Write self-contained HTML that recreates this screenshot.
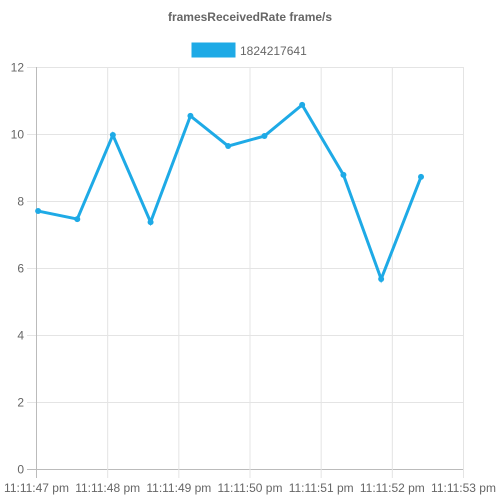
<!DOCTYPE html>
<html><head><meta charset="utf-8"><style>
body{margin:0;background:#fff;}
svg{display:block;font-family:"Liberation Sans",sans-serif;}
</style></head><body>
<svg id="c" width="500" height="500">
<text x="250" y="21" text-anchor="middle" font-size="12" font-weight="bold" fill="#666">framesReceivedRate frame/s</text>
<g>
<rect x="192" y="43" width="43" height="14" fill="#1eaae6" stroke="#1eaae6"></rect>
<text x="240" y="55" font-size="12" fill="#666">1824217641</text>
</g>
<g id="grid"></g><g id="series"></g>
</svg>
<script>
const yTicks=[0,2,4,6,8,10,12];
const xTickLabels=["11:11:47 pm","11:11:48 pm","11:11:49 pm","11:11:50 pm","11:11:51 pm","11:11:52 pm","11:11:53 pm"];
const times=[0.03,0.58,1.08,1.61,2.17,2.70,3.21,3.74,4.32,4.85,5.41];
const values=[7.70,7.46,9.97,7.37,10.54,9.64,9.94,10.87,8.78,5.67,8.72];
const L=36,R=463,T=67,B=469,NS="http://www.w3.org/2000/svg";
const xs=t=>L+t/6*(R-L), ys=v=>B-v/12*(B-T);
const g=document.getElementById('grid'), s=document.getElementById('series');
function mk(tag,at,p){const e=document.createElementNS(NS,tag);for(const k in at)e.setAttribute(k,at[k]);p.appendChild(e);return e;}
yTicks.forEach(v=>{const y=ys(v)+0.5;
const l=mk('line',{x1:27,x2:R,y1:y,y2:y,stroke:v===0?'#bbb':'#e4e4e4'},g);


const t=mk('text',{x:24,y:y+4,'text-anchor':'end','font-size':12,fill:'#666'},g);t.textContent=v;

});
xTickLabels.forEach((lab,i)=>{const x=xs(i)+0.5;
const l=mk('line',{x1:x,x2:x,y1:T,y2:B+9,stroke:i===0?'#bbb':'#e4e4e4'},g);


const t=mk('text',{x:x,y:492,'text-anchor':'middle','font-size':12,fill:'#666'},g);t.textContent=lab;

});
const pts=times.map((t,i)=>[xs(t),ys(values[i])]);
const pl=mk('polyline',{points:pts.map(p=>p.join(',')).join(' '),fill:'none',stroke:'#1eaae6','stroke-width':3,'stroke-linejoin':'miter'},s);


pts.forEach(p=>{const c=mk('circle',{cx:p[0],cy:p[1],r:3,fill:'#1eaae6'},s);

});
</script>
</body></html>
